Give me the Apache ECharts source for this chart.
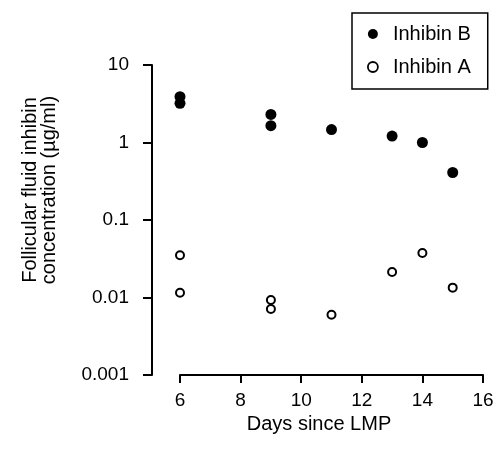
<!DOCTYPE html>
<html>
<head>
<meta charset="utf-8">
<script src="https://cdn.jsdelivr.net/npm/echarts@6/dist/echarts.min.js"></script>
<style>
  html, body { margin: 0; padding: 0; background: #fff; }
  #chart { width: 500px; height: 454px; }
</style>
</head>
<body>
<div id="chart"></div>
<script>
// days since LMP for each follicle sample
const daysB = [6, 6, 9, 9, 11, 13, 14, 15];
const inhibinB = [3.9, 3.2, 2.3, 1.65, 1.47, 1.21, 1.0, 0.41];

const daysA = [6, 6, 9, 9, 11, 13, 14, 15];
const inhibinA = [0.035, 0.0115, 0.0093, 0.0071, 0.006, 0.0213, 0.0376, 0.0134];

const xTicks = [6, 8, 10, 12, 14, 16];
const yTicks = ['0.001', '0.01', '0.1', '1', '10'];

const font = 'Liberation Sans, Arial, Helvetica, sans-serif';

const chart = echarts.init(document.getElementById('chart'), null, { renderer: 'canvas' });

const option = {
  backgroundColor: '#fff',
  animation: false,
  grid: { left: 180, right: 17, top: 65, bottom: 79 },
  legend: {
    orient: 'vertical',
    left: 352,
    top: 13,
    padding: [11, 17, 12, 15],
    itemGap: 13,
    itemWidth: 10,
    itemHeight: 10,
    borderColor: '#000',
    borderWidth: 1.5,
    textStyle: { fontFamily: font, fontSize: 20, lineHeight: 20, color: '#000', padding: [0, 0, 0, 10] },
    data: [
      { name: 'Inhibin B', icon: 'circle', itemStyle: { color: '#000' } },
      { name: 'Inhibin A', icon: 'circle', itemStyle: { color: '#fff', borderColor: '#000', borderWidth: 1.8 } },
    ],
  },
  xAxis: {
    type: 'value',
    min: xTicks[0],
    max: xTicks[xTicks.length - 1],
    interval: 2,
    name: 'Days since LMP',
    nameLocation: 'middle',
    nameGap: 33,
    nameTextStyle: { fontFamily: font, fontSize: 20, color: '#000', padding: [0, 25, 0, 0] },
    splitLine: { show: false },
    axisLine: { lineStyle: { color: '#000', width: 2 } },
    axisTick: { length: 8, lineStyle: { color: '#000', width: 2 } },
    axisLabel: { fontFamily: font, fontSize: 19, color: '#000', margin: 16 },
  },
  yAxis: {
    type: 'log',
    logBase: 10,
    min: +yTicks[0],
    max: +yTicks[yTicks.length - 1],
    offset: 28,
    name: 'Follicular fluid inhibin\nconcentration (\u00b5g/ml)',
    nameLocation: 'middle',
    nameGap: 93,
    nameTextStyle: { fontFamily: font, fontSize: 20, lineHeight: 19, color: '#000', padding: [0, 0, 0, 60] },
    splitLine: { show: false },
    minorTick: { show: false },
    axisLine: { show: true, lineStyle: { color: '#000', width: 2 } },
    axisTick: { show: true, length: 9, lineStyle: { color: '#000', width: 2 } },
    axisLabel: {
      fontFamily: font, fontSize: 19, color: '#000', margin: 23,
      formatter: v => yTicks.find(t => Math.abs(Math.log10(+t) - Math.log10(v)) < 1e-6) || '',
    },
  },
  series: [
    {
      name: 'Inhibin B',
      type: 'scatter',
      clip: false,
      symbol: 'circle',
      symbolSize: 11,
      itemStyle: { color: '#000', opacity: 1 },
      data: daysB.map((d, i) => [d, inhibinB[i]]),
    },
    {
      name: 'Inhibin A',
      type: 'scatter',
      clip: false,
      symbol: 'circle',
      symbolSize: 8,
      itemStyle: { color: '#fff', borderColor: '#000', borderWidth: 2, opacity: 1 },
      data: daysA.map((d, i) => [d, inhibinA[i]]),
    },
  ],
};

chart.setOption(option);
</script>
</body>
</html>
